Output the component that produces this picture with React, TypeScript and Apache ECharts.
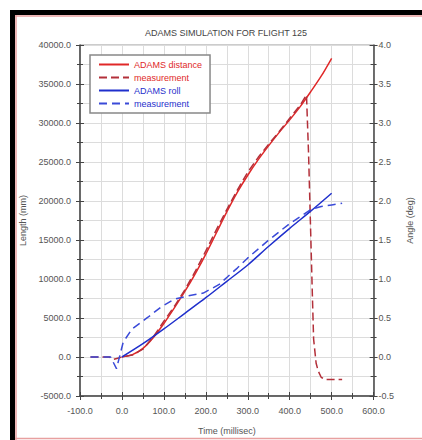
import React, { useEffect, useRef } from "react";
import * as echarts from "echarts";

// ---- data ----
const distanceTime = [0, 25, 50, 75, 100, 125, 150, 175, 200, 225, 250, 275, 300, 325, 350, 375, 400, 425, 450, 475, 500];
const distanceMM = [0, 300, 1100, 2500, 4300, 6300, 8400, 10700, 13200, 15900, 18600, 21100, 23300, 25300, 27100, 28800, 30400, 32100, 34000, 36000, 38300];

const distMeasTime = [-75, -50, -30, -20, -10, 0, 25, 50, 75, 100, 125, 150, 175, 200, 225, 250, 275, 300, 325, 350, 375, 400, 425, 440, 445, 450, 454, 457, 463, 468, 475, 485, 525];
const distMeasMM = [0, 0, 0, -300, -150, 0, 250, 1000, 2600, 4600, 6500, 8600, 11000, 13600, 16300, 18900, 21400, 23700, 25600, 27300, 28900, 30600, 32300, 33600, 26000, 16000, 8000, 2300, -800, -1800, -2600, -2900, -2900];

const rollTime = [0, 50, 100, 150, 200, 250, 300, 350, 400, 450, 500];
const rollDeg = [0, 0.17, 0.36, 0.56, 0.76, 0.97, 1.18, 1.42, 1.65, 1.87, 2.1];

const rollMeasTime = [-75, -50, -27, -13, 3, 24, 62, 93, 124, 155, 194, 232, 250, 275, 300, 350, 400, 450, 475, 500, 525];
const rollMeasDeg = [0, 0, 0, -0.15, 0.19, 0.36, 0.51, 0.64, 0.74, 0.78, 0.82, 0.93, 1.02, 1.14, 1.27, 1.5, 1.71, 1.89, 1.93, 1.95, 1.97];

const seriesNames = ["ADAMS distance", "measurement", "ADAMS roll", "measurement "];
const titleText = "ADAMS SIMULATION FOR FLIGHT 125";
const xName = "Time (millisec)";
const yLeftName = "Length (mm)";
const yRightName = "Angle (deg)";

const FONT = "'Liberation Sans', Arial, sans-serif";
const RED = "#e02828";
const RED_DASH = "#b3303a";
const BLUE = "#1f2fcc";
const BLUE_DASH = "#3a4ad8";
const AXIS = "#444";
const LABEL = "#555";
const GRIDC = "#dcdcdc";

const zip = (a: number[], b: number[]) => a.map((v, i) => [v, b[i]]);

export default function App() {
  const ref = useRef<HTMLDivElement>(null);
  useEffect(() => {
    if (!ref.current) return;
    const chart = echarts.init(ref.current, undefined, { renderer: "svg" });
    const xBase = { type: "value", min: -100, max: 600, interval: 100, position: "bottom", gridIndex: 0 };
    const tickLine = { color: AXIS, width: 1 };
    const option: any = {
      animation: false,
      backgroundColor: "#fff",
      textStyle: { fontFamily: FONT },
      title: {
        text: titleText,
        left: 226,
        top: 28,
        textAlign: "center",
        padding: 0,
        textStyle: { fontSize: 9, fontWeight: "normal", color: "#444", fontFamily: FONT },
      },
      grid: { left: 80, top: 45, width: 302, height: 352, show: true, borderColor: "#999", borderWidth: 1, backgroundColor: "transparent" },
      legend: {
        orient: "vertical",
        left: 90,
        top: 55,
        itemWidth: 30,
        itemHeight: 10,
        itemGap: 4,
        padding: [5, 8, 5, 8],
        borderColor: "#888",
        borderWidth: 1.5,
        backgroundColor: "#fff",
        itemStyle: { opacity: 0 },
        textStyle: { fontSize: 9, fontFamily: FONT },
        data: [
          { name: seriesNames[0], textStyle: { color: RED } },
          { name: seriesNames[1], textStyle: { color: RED } },
          { name: seriesNames[2], textStyle: { color: BLUE } },
          { name: seriesNames[3], textStyle: { color: BLUE } },
        ],
      },
      xAxis: [
        {
          ...xBase,
          axisLine: { show: true, onZero: false, lineStyle: { color: AXIS, width: 1.5 } },
          axisTick: { show: true, inside: false, length: 4, lineStyle: tickLine },
          minorTick: { show: true, splitNumber: 2, length: 3, lineStyle: tickLine },
          splitLine: { show: true, lineStyle: { color: GRIDC, width: 1 } },
          minorSplitLine: { show: true, lineStyle: { color: GRIDC, width: 1 } },
          axisLabel: { fontSize: 9, color: LABEL, margin: 10, formatter: (v: number) => v.toFixed(1) },
          name: xName,
          nameLocation: "middle",
          nameGap: 30,
          nameTextStyle: { fontSize: 9, color: LABEL },
        },
        {
          ...xBase,
          axisLine: { show: false, onZero: false },
          axisTick: { show: true, inside: true, length: 4, lineStyle: tickLine },
          minorTick: { show: true, splitNumber: 2, length: 3, lineStyle: tickLine },
          splitLine: { show: false },
          axisLabel: { show: false },
        },
      ],
      yAxis: [
        {
          type: "value", min: -5000, max: 40000, interval: 5000, position: "left",
          axisLine: { show: true, onZero: false, lineStyle: { color: AXIS, width: 1.5 } },
          axisTick: { show: true, inside: false, length: 4, lineStyle: tickLine },
          minorTick: { show: true, splitNumber: 2, length: 3, lineStyle: tickLine },
          splitLine: { show: true, lineStyle: { color: GRIDC, width: 1 } },
          minorSplitLine: { show: true, lineStyle: { color: GRIDC, width: 1 } },
          axisLabel: { fontSize: 9, color: LABEL, margin: 9, formatter: (v: number) => v.toFixed(1) },
          name: yLeftName,
          nameLocation: "middle",
          nameGap: 48,
          nameRotate: 90,
          nameTextStyle: { fontSize: 9, color: LABEL },
        },
        {
          type: "value", min: -0.5, max: 4, interval: 0.5, position: "right",
          axisLine: { show: true, onZero: false, lineStyle: { color: AXIS, width: 1.5 } },
          axisTick: { show: true, inside: false, length: 4, lineStyle: tickLine },
          minorTick: { show: true, splitNumber: 2, length: 3, lineStyle: tickLine },
          splitLine: { show: false },
          axisLabel: { fontSize: 9, color: LABEL, margin: 5, formatter: (v: number) => v.toFixed(1) },
          name: yRightName,
          nameLocation: "middle",
          nameGap: 30,
          nameRotate: 90,
          nameTextStyle: { fontSize: 9, color: LABEL },
        },
        {
          type: "value", min: -5000, max: 40000, interval: 5000, position: "left",
          axisLine: { show: false, onZero: false },
          axisTick: { show: true, inside: true, length: 4, lineStyle: tickLine },
          minorTick: { show: true, splitNumber: 2, length: 3, lineStyle: tickLine },
          splitLine: { show: false },
          axisLabel: { show: false },
        },
        {
          type: "value", min: -0.5, max: 4, interval: 0.5, position: "right",
          axisLine: { show: false, onZero: false },
          axisTick: { show: true, inside: true, length: 4, lineStyle: tickLine },
          minorTick: { show: true, splitNumber: 2, length: 3, lineStyle: tickLine },
          splitLine: { show: false },
          axisLabel: { show: false },
        },
      ],
      series: [
        {
          name: seriesNames[0], type: "line", xAxisIndex: 0, yAxisIndex: 0, symbol: "none",
          data: zip(distanceTime, distanceMM), smooth: 0.3,
          lineStyle: { color: RED, width: 1.5 }, itemStyle: { color: RED }, z: 3,
        },
        {
          name: seriesNames[1], type: "line", xAxisIndex: 0, yAxisIndex: 0, symbol: "none",
          data: zip(distMeasTime, distMeasMM),
          lineStyle: { color: RED_DASH, width: 1.5, type: [8, 4] }, itemStyle: { color: RED_DASH }, z: 3,
        },
        {
          name: seriesNames[2], type: "line", xAxisIndex: 0, yAxisIndex: 1, symbol: "none",
          data: zip(rollTime, rollDeg), smooth: 0.3,
          lineStyle: { color: BLUE, width: 1.5 }, itemStyle: { color: BLUE }, z: 3,
        },
        {
          name: seriesNames[3], type: "line", xAxisIndex: 0, yAxisIndex: 1, symbol: "none",
          data: zip(rollMeasTime, rollMeasDeg),
          lineStyle: { color: BLUE_DASH, width: 1.5, type: [8, 5] }, itemStyle: { color: BLUE_DASH }, z: 3,
        },
      ],
      graphic: [
        { type: "rect", silent: true, shape: { x: 10, y: 10, width: 412, height: 5 }, style: { fill: "#000" } },
        { type: "rect", silent: true, shape: { x: 10, y: 10, width: 5, height: 430 }, style: { fill: "#000" } },
        { type: "line", silent: true, shape: { x1: 15, y1: 16, x2: 422, y2: 16 }, style: { stroke: "#e8a0a0", lineWidth: 1.5 } },
        { type: "line", silent: true, shape: { x1: 16, y1: 15, x2: 16, y2: 440 }, style: { stroke: "#e8a0a0", lineWidth: 1.5 } },
        { type: "line", silent: true, shape: { x1: 15, y1: 438.5, x2: 422, y2: 438.5 }, style: { stroke: "#e8a0a0", lineWidth: 1.5 } },
      ],
    };
    chart.setOption(option);
    return () => chart.dispose();
  }, []);
  return <div ref={ref} style={{ position: "absolute", left: 0, top: 0, width: 422, height: 440 }} />;
}
